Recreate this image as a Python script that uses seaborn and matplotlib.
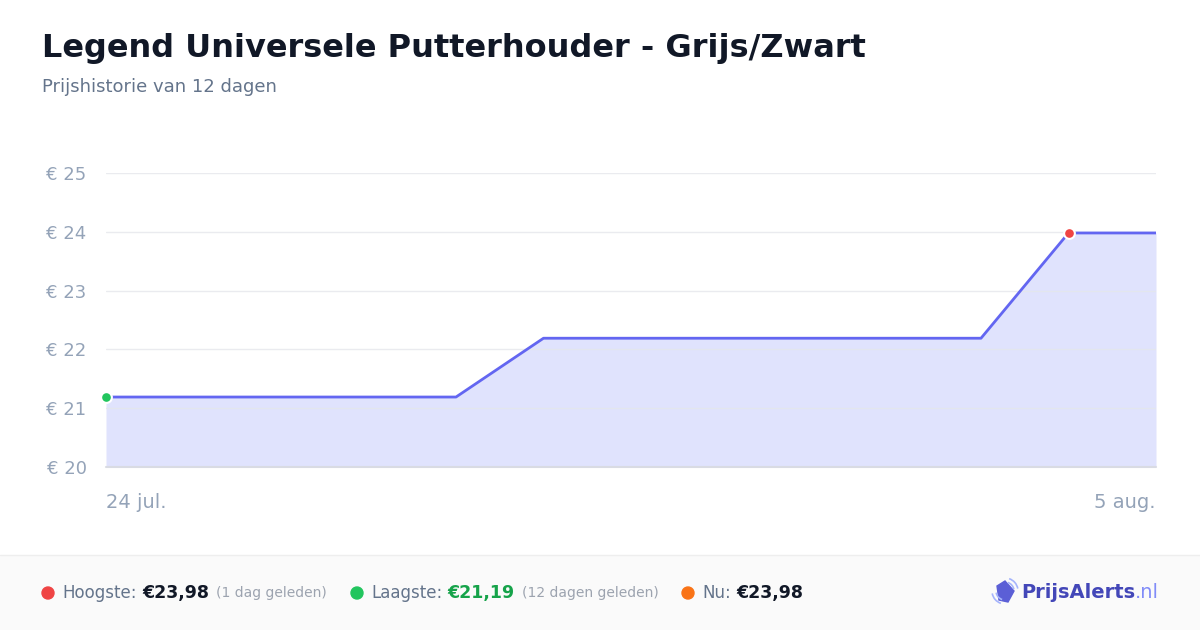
import matplotlib
matplotlib.use("Agg")
import matplotlib.pyplot as plt
import matplotlib.patches as mpatches
import seaborn as sns
import pandas as pd

# price history, 24 jul -> 5 aug
dates = pd.date_range("2025-07-24", "2025-08-05", freq="D")
prices = [21.19, 21.19, 21.19, 21.19, 21.19,
          22.19, 22.19, 22.19, 22.19, 22.19, 22.19,
          23.98, 23.98]
y_ticks = [20, 21, 22, 23, 24, 25]
x_labels = ["24 jul.", "5 aug."]

df = pd.DataFrame({"Date": dates, "Price": prices})

sns.set_style("white")
plt.rcParams["font.family"] = ["DejaVu Sans"]

W, H = 1200, 630
fig = plt.figure(figsize=(12, 6.3), dpi=100)
fig.patch.set_facecolor("white")

# footer band
footer = fig.add_axes([0, 0, 1, 75 / H])
footer.set_facecolor("#fafafa")
footer.set_xticks([])
footer.set_yticks([])
for s in footer.spines.values():
    s.set_visible(False)
fig.add_artist(plt.Line2D([0, 1], [75 / H, 75 / H], color="#eeeeee", lw=1))

ax = fig.add_axes([106 / W, 1 - 467 / H, 1050 / W, 294 / H])
sns.lineplot(data=df, x="Date", y="Price", ax=ax, color="#6366f1", lw=2, zorder=4)
ax.fill_between(df["Date"], df["Price"], 20, color="#e0e3fd", lw=0, zorder=1)
ax.set_xlim(dates[0], dates[-1])
ax.set_ylim(20, 25)
ax.set_yticks(y_ticks)
ax.set_yticklabels([f"€ {v}" for v in y_ticks])
ax.tick_params(axis="y", length=0, pad=14, labelsize=13, labelcolor="#94a3b8")
ax.set_xticks([])
ax.set_xlabel("")
ax.set_ylabel("")
ax.set_axisbelow(False)
ax.grid(axis="y", color="#e5e7eb", lw=1, alpha=0.8, zorder=2)
for s in ax.spines.values():
    s.set_visible(False)
ax.axhline(20, color="#d9dbe3", lw=1.5, zorder=3, clip_on=False)

# low / high markers
i_min = prices.index(min(prices))
i_max = prices.index(max(prices))
ax.scatter([dates[i_min]], [prices[i_min]], s=60, color="#22c55e",
           edgecolor="white", linewidth=1.5, zorder=5, clip_on=False)
ax.scatter([dates[i_max]], [prices[i_max]], s=60, color="#ef4444",
           edgecolor="white", linewidth=1.5, zorder=5, clip_on=False)

fig.text(106 / W, 1 - 503 / H, x_labels[0], ha="left", va="center",
         fontsize=14, color="#94a3b8")
fig.text(1156 / W, 1 - 503 / H, x_labels[1], ha="right", va="center",
         fontsize=14, color="#94a3b8")

# titles
fig.text(42 / W, 1 - 48 / H, "Legend Universele Putterhouder - Grijs/Zwart",
         ha="left", va="center", fontsize=23, fontweight="bold", color="#111827")
fig.text(42 / W, 1 - 87 / H, "Prijshistorie van 12 dagen", ha="left",
         va="center", fontsize=13, color="#64748b")

# footer stats
fy = 1 - 593 / H


def stat(x, dot, label, value, value_color, note):
    fig.add_artist(mpatches.Ellipse((x / W, fy), 12 / W, 12 / H, color=dot,
                                    transform=fig.transFigure))
    t = fig.text((x + 14) / W, fy, label, ha="left", va="center",
                 fontsize=12, color="#64748b")
    t2 = ax.annotate(value, xy=(1, 0.5), xycoords=t, xytext=(4, 0),
                     textcoords="offset points", ha="left", va="center",
                     fontsize=12.5, fontweight="bold", color=value_color)
    if note:
        ax.annotate(note, xy=(1, 0.5), xycoords=t2, xytext=(5, 0),
                    textcoords="offset points", ha="left", va="center",
                    fontsize=10, color="#9ca3af")


stat(48, "#ef4444", "Hoogste:", "€23,98", "#111827", "(1 dag geleden)")
stat(357, "#22c55e", "Laagste:", "€21,19", "#16a34a", "(12 dagen geleden)")
stat(688, "#f97316", "Nu:", "€23,98", "#111827", "")

# logo: tag icon with signal arcs
tag = mpatches.Polygon([(997 / W, 1 - 586 / H), (1005 / W, 1 - 581 / H),
                        (1014 / W, 1 - 591 / H), (1008 / W, 1 - 602 / H),
                        (999 / W, 1 - 600 / H)],
                       closed=True, transform=fig.transFigure, color="#5b5fd6")
fig.add_artist(tag)
for r in (9, 13):
    fig.add_artist(mpatches.Arc((1005 / W, 1 - 591 / H), 2 * r / W, 2 * r / H,
                                theta1=20, theta2=80, lw=1.2, color="#a5b4fc",
                                transform=fig.transFigure))
    fig.add_artist(mpatches.Arc((1005 / W, 1 - 591 / H), 2 * r / W, 2 * r / H,
                                theta1=200, theta2=260, lw=1.2, color="#a5b4fc",
                                transform=fig.transFigure))
lt = fig.text(1021 / W, fy, "PrijsAlerts", ha="left", va="center",
              fontsize=14, fontweight="bold", color="#4347b8")
ax.annotate(".nl", xy=(1, 0.5), xycoords=lt, xytext=(0, 0),
            textcoords="offset points", ha="left", va="center",
            fontsize=14, color="#818cf8")

fig.savefig("out.png", dpi=100)
